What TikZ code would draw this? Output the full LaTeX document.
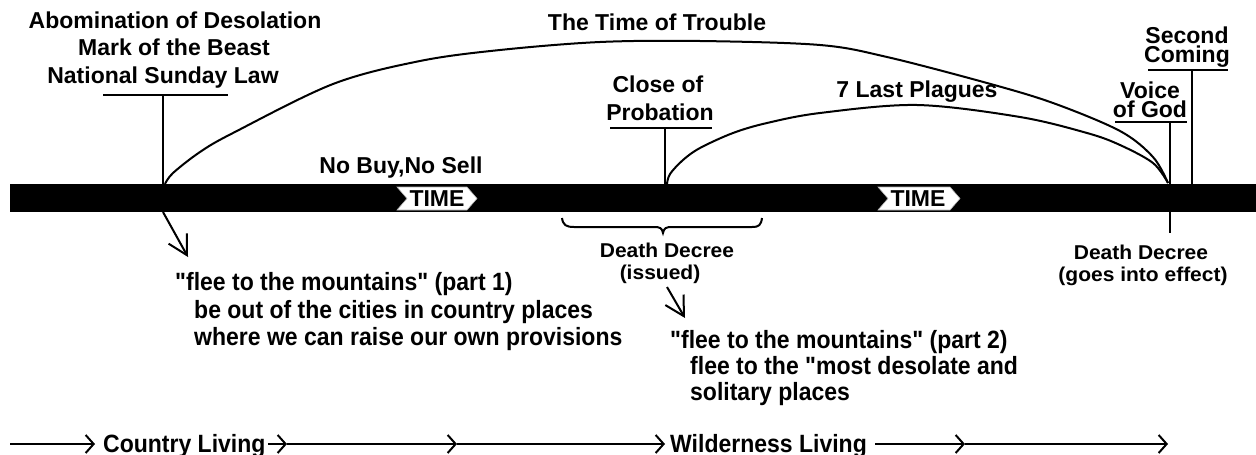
\documentclass[tikz,border=0pt]{standalone}
\usepackage{fontspec}
\setmainfont{Liberation Sans}[Ligatures=TeXOff]
\newfontfamily\hfont{Liberation Sans}[FakeStretch=1.0,Ligatures=TeXOff]
\newfontfamily\bfont{Liberation Sans}[FakeStretch=0.92,Ligatures=TeXOff]
\newfontfamily\dfont{Liberation Sans}[FakeStretch=1.05,Ligatures=TeXOff]
\usetikzlibrary{arrows.meta}
\begin{document}
\begin{tikzpicture}[x=1pt,y=-1pt,
  head/.style={font=\hfont\bfseries\fontsize{23}{23}\selectfont, anchor=base, inner sep=0pt},
  tight/.style={font=\hfont\bfseries\fontsize{23}{19}\selectfont, anchor=south, align=center, inner sep=0pt},
  body/.style={font=\bfont\bfseries\fontsize{25}{25}\selectfont, anchor=base west, inner sep=0pt},
  dd/.style={font=\dfont\bfseries\fontsize{20}{20}\selectfont, anchor=base, inner sep=0pt},
  ln/.style={line width=2pt},
  ul/.style={line width=1.5pt},
  arcline/.style={line width=2pt},
  barrow/.style={line width=2pt, -{Straight Barb[length=19pt,width=21pt]}},
  flow/.style={line width=2pt, -{Straight Barb[length=8pt,width=18pt]}},
  badge/.style={fill=white, draw=gray!60, line width=0.6pt},
  ]
\useasboundingbox (0,0) rectangle (1256,455);

% time bar
\fill (10,184) rectangle (1256,212);

% event coordinates
\coordinate (abomTop) at (163,95);
\coordinate (abomBar) at (163,184);
\coordinate (closeTop) at (665,128);
\coordinate (closeBar) at (665,184);
\coordinate (voiceTop) at (1170,122);
\coordinate (voiceBar) at (1170,184);
\coordinate (secTop) at (1192,70);
\coordinate (secBar) at (1192,184);

% headings
\node[head] (abom1) at (175,28) {Abomination of Desolation};
\node[head] (abom2) at (174,55) {Mark of the Beast};
\node[head] (abom3) at (163,83) {National Sunday Law};
\node[head] (trouble) at (657,30) {The Time of Trouble};
\node[head] (close1) at (658,92) {Close of};
\node[head] (close2) at (660,120) {Probation};
\node[head] (nobuy) at (401,173) {No Buy,No Sell};
\node[head] (plagues) at (917,97) {7 Last Plagues};
\node[tight] (voice) at (1150,117.5) {Voice\\of God};
\node[tight] (second) at (1187,67.5) {Second\\Coming};

% underlines and markers
\draw[ul] (103,95) -- (228,95);
\draw[ln] (abomTop) -- (abomBar);
\draw[ul] (610,128) -- (712,128);
\draw[ln] (closeTop) -- (closeBar);
\draw[ul] (1115,122) -- (1187,122);
\draw[ln] (voiceTop) -- (voiceBar);
\draw[ul] (1148,70) -- (1228,70);
\draw[ln] (secTop) -- (secBar);

% arcs
\draw[arcline] plot[smooth, tension=0.55] coordinates {(165,184) (173,173) (200,152) (233,133) (333,84) (420,61) (500,50) (600,42) (700,41) (820,45) (887,57) (987,83) (1053,103) (1120,131) (1153,157) (1168,183)};
\draw[arcline] plot[smooth, tension=0.55] coordinates {(667,184) (670,174) (683,160) (700,148) (733,133) (767,123) (820,113) (917,105) (1020,117) (1087,133) (1120,145) (1153,163) (1168,183)};

% TIME badges
\draw[badge] (397,187) -- (467,187) -- (477,198.5) -- (467,210) -- (397,210) -- (407,198.5) -- cycle;
\node[head] (time1) at (437,206.5) {TIME};
\draw[badge] (878,187) -- (950,187) -- (960,198.5) -- (950,210) -- (878,210) -- (888,198.5) -- cycle;
\node[head] (time2) at (918,206.5) {TIME};

% brace
\draw[line width=2pt] (562,218) .. controls (563,225) and (566,227) .. (574,227) -- (654,227) .. controls (660,227) and (662,228) .. (663,233) .. controls (664,228) and (666,227) .. (672,227) -- (752,227) .. controls (759,227) and (761,225) .. (762,218);

% death decree
\node[dd] (dd1) at (667,257) {Death Decree};
\node[dd] (dd2) at (660,279) {(issued)};
\draw[ln] (1170,212) -- (1170,233);
\node[dd] (dd3) at (1141,259) {Death Decree};
\node[dd] (dd4) at (1143,281) {(goes into effect)};

% arrows
\coordinate (a1s) at (163,212);
\coordinate (a1e) at (188,257);
\draw[barrow] (a1s) -- (a1e);
\coordinate (a2s) at (667,287);
\coordinate (a2e) at (685,318);
\draw[barrow] (a2s) -- (a2e);

% body text
\node[body] (p1a) at (175,290) {"flee to the mountains" (part 1)};
\node[body] (p1b) at (194,318) {be out of the cities in country places};
\node[body] (p1c) at (194,345) {where we can raise our own provisions};
\node[body] (p2a) at (670,348) {"flee to the mountains" (part 2)};
\node[body] (p2b) at (690,374) {flee to the "most desolate and};
\node[body] (p2c) at (690,400) {solitary places};

% bottom flow
\coordinate (f0) at (10,444);
\coordinate (f1) at (95,444);
\coordinate (f2) at (268,444);
\coordinate (f3) at (287,444);
\coordinate (f4) at (457,444);
\coordinate (f5) at (665,444);
\coordinate (f6) at (875,444);
\coordinate (f7) at (965,444);
\coordinate (f8) at (1168,444);
\node[body] (country) at (103,452) {Country Living};
\node[body] (wild) at (670,452) {Wilderness Living};
\draw[flow] (f0) -- (f1);
\draw[flow] (f2) -- (f3);
\draw[flow] (f3) -- (f4);
\draw[flow] (f4) -- (f5);
\draw[flow] (f6) -- (f7);
\draw[flow] (f7) -- (f8);
\end{tikzpicture}
\end{document}
